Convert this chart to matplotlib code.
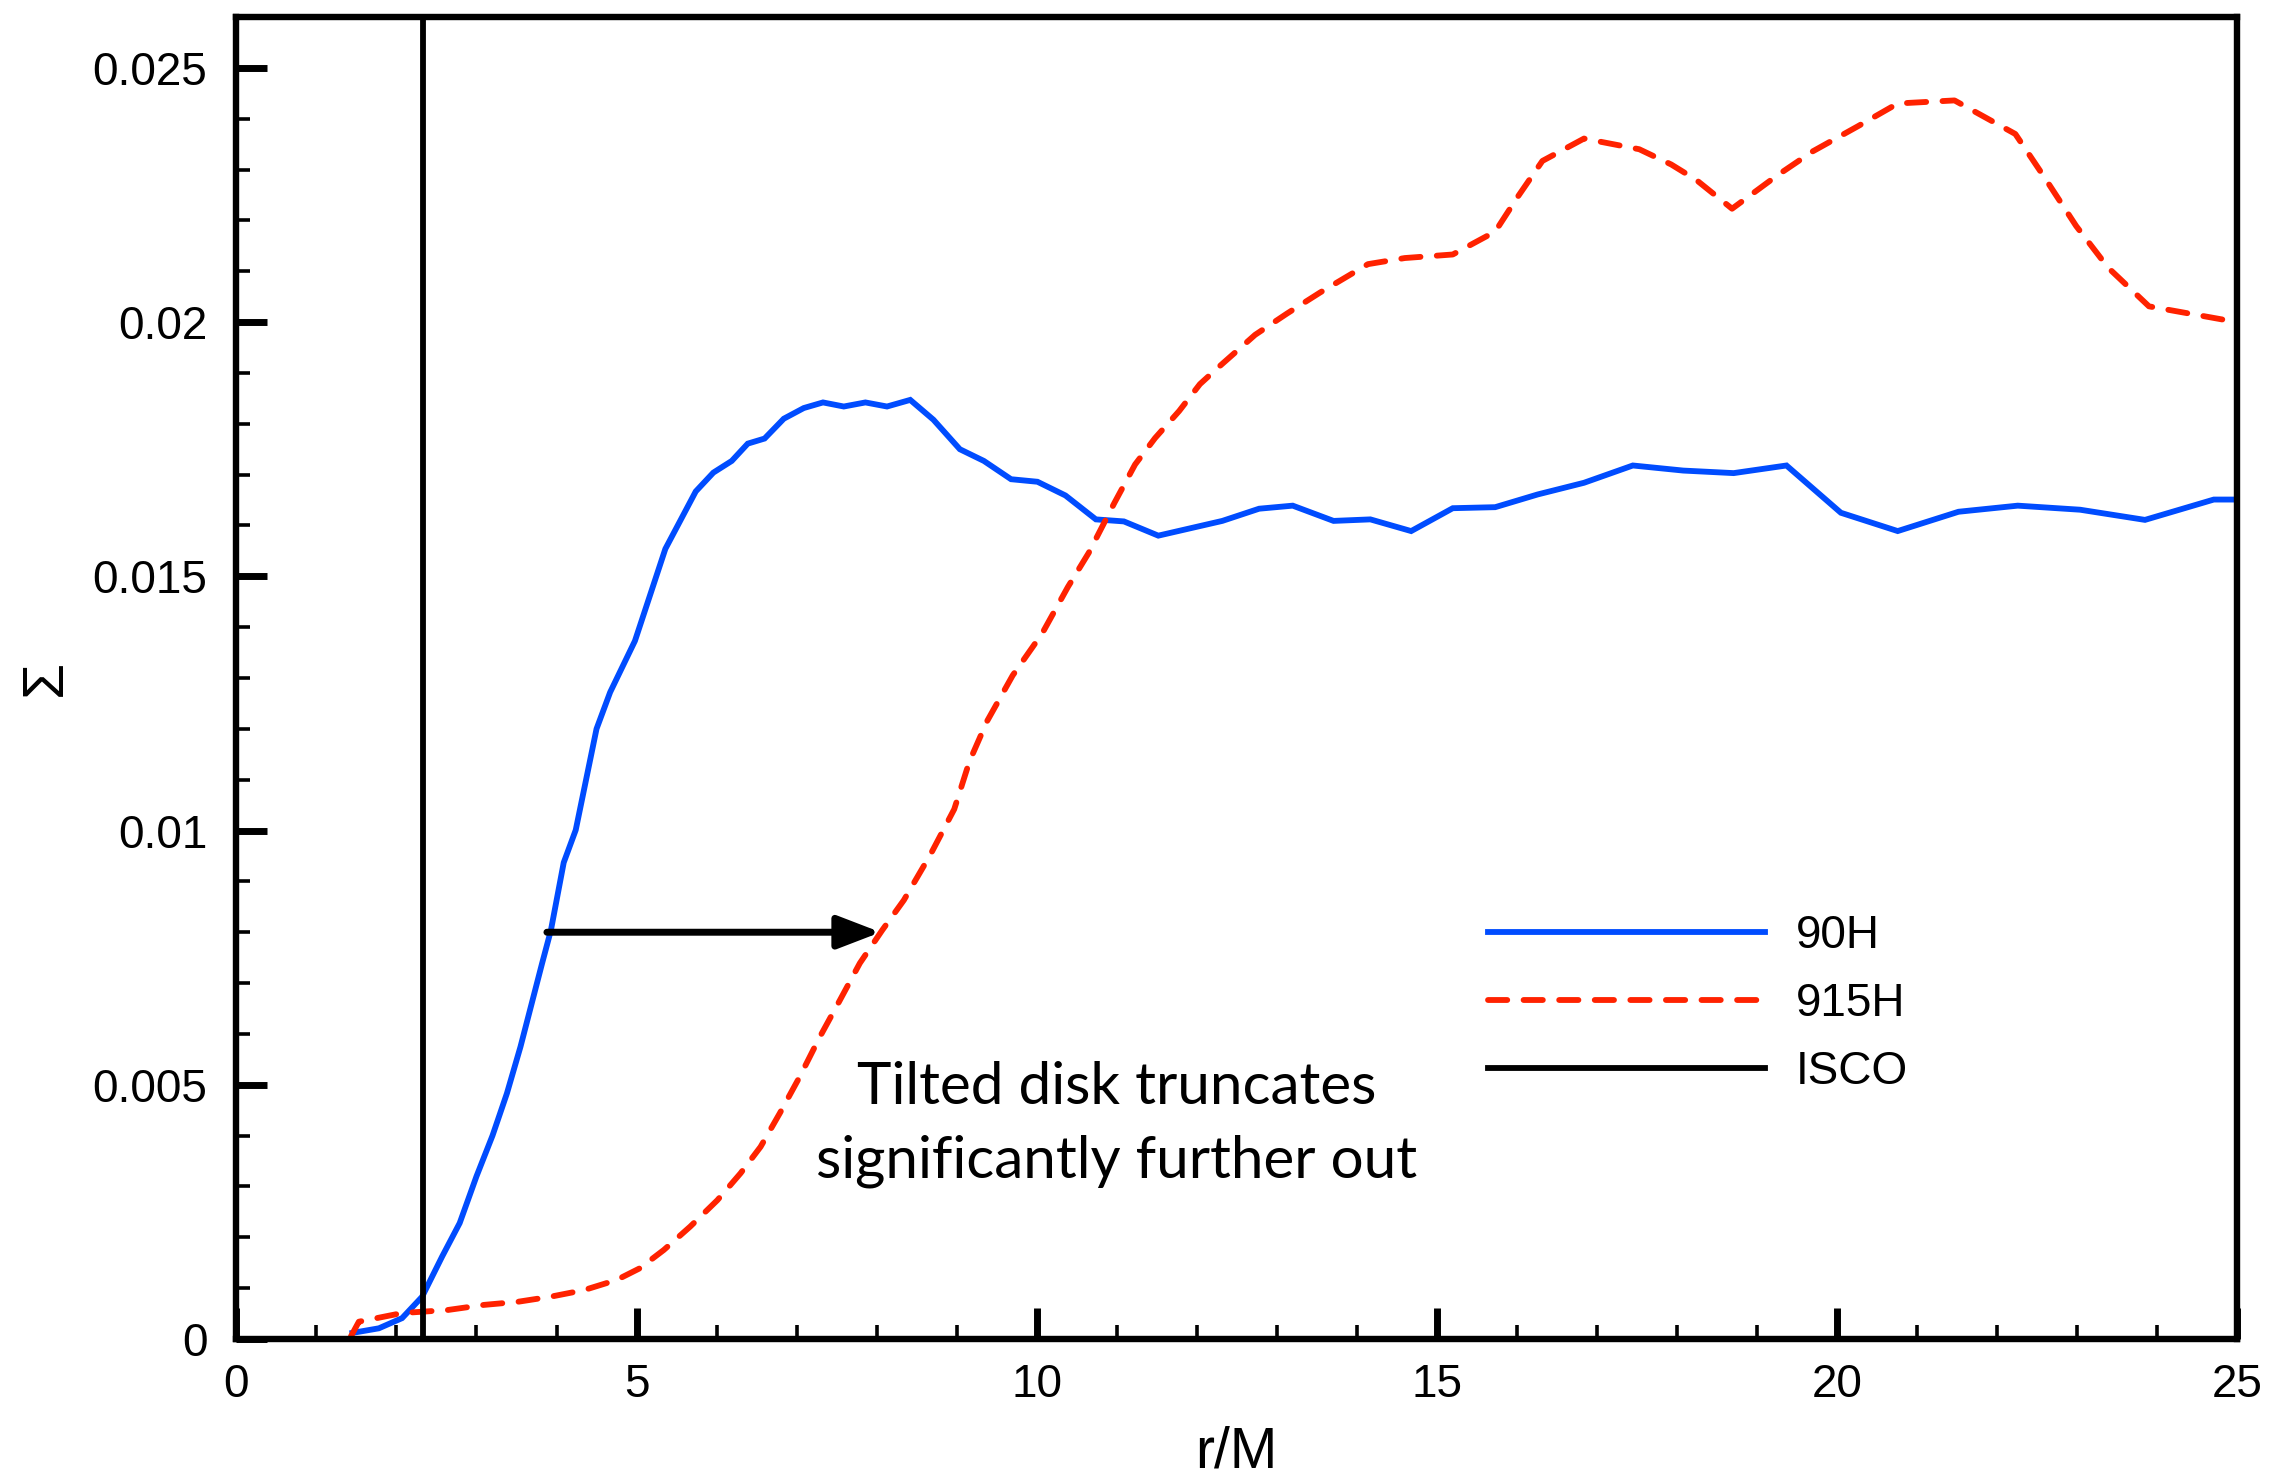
import matplotlib
matplotlib.use("Agg")
import matplotlib.pyplot as plt
from matplotlib.ticker import MultipleLocator

# ---- data (Sigma in units of 1e-3) ----
r_90H = [1.45, 1.78, 2.07, 2.32, 2.57, 2.79, 3.00, 3.20, 3.38, 3.55, 3.69, 3.82, 3.93,
         4.09, 4.24, 4.50, 4.67, 4.98, 5.36, 5.74, 5.96, 6.19, 6.39, 6.60, 6.84, 7.09,
         7.33, 7.59, 7.86, 8.13, 8.42, 8.71, 9.04, 9.34, 9.68, 10.01, 10.36, 10.74,
         11.09, 11.52, 12.32, 12.78, 13.20, 13.71, 14.17, 14.68, 15.20, 15.73, 16.26,
         16.84, 17.45, 18.08, 18.71, 19.37, 20.05, 20.76, 21.52, 22.26, 23.04, 23.85,
         24.71, 25.0]
sigma_90H = [0.12, 0.21, 0.41, 0.83, 1.62, 2.28, 3.2, 4.0, 4.83, 5.75, 6.60, 7.39, 8.04,
             9.37, 10.01, 12.0, 12.72, 13.73, 15.54, 16.67, 17.04, 17.27, 17.61, 17.71,
             18.10, 18.31, 18.42, 18.34, 18.42, 18.34, 18.47, 18.08, 17.50, 17.27, 16.91,
             16.86, 16.59, 16.12, 16.08, 15.80, 16.09, 16.33, 16.39, 16.09, 16.12, 15.89,
             16.34, 16.36, 16.61, 16.84, 17.18, 17.08, 17.03, 17.18, 16.25, 15.89, 16.27,
             16.39, 16.31, 16.11, 16.51, 16.51]

r_915H = [1.43, 1.53, 2.07, 2.64, 3.09, 3.51, 3.92, 4.34, 4.75, 5.04, 5.34, 5.67, 6.01,
          6.30, 6.55, 6.79, 7.04, 7.29, 7.54, 7.79, 8.07, 8.34, 8.67, 8.97, 9.16, 9.38,
          9.70, 10.07, 10.39, 10.65, 10.97, 11.23, 11.48, 11.78, 12.04, 12.27, 12.73,
          13.13, 13.54, 14.14, 14.60, 15.20, 15.73, 16.01, 16.32, 16.84, 17.53, 17.93,
          18.24, 18.69, 19.25, 19.70, 20.26, 20.76, 21.47, 22.23, 22.58, 22.99, 23.39,
          23.90, 25.0]
sigma_915H = [0.05, 0.34, 0.51, 0.57, 0.67, 0.73, 0.83, 0.96, 1.16, 1.39, 1.75, 2.21,
              2.73, 3.26, 3.78, 4.44, 5.16, 5.94, 6.66, 7.39, 8.04, 8.63, 9.52, 10.42,
              11.36, 12.15, 13.05, 13.88, 14.79, 15.46, 16.44, 17.20, 17.72, 18.25, 18.78,
              19.11, 19.75, 20.17, 20.58, 21.14, 21.26, 21.33, 21.78, 22.46, 23.17, 23.61,
              23.40, 23.10, 22.80, 22.23, 22.88, 23.36, 23.85, 24.30, 24.36, 23.70, 22.88,
              21.89, 21.07, 20.31, 20.0]

r_isco = 2.33
arrow_start = (3.88, 0.0080)
arrow_end = (8.05, 0.0080)
annotation_lines = ["Tilted disk truncates", "significantly further out"]
labels = ["90H", "915H", "ISCO"]

sig90 = [v * 1e-3 for v in sigma_90H]
sig915 = [v * 1e-3 for v in sigma_915H]

plt.rcParams['font.family'] = ['Liberation Sans', 'DejaVu Sans']

fig = plt.figure(figsize=(22.69, 14.82), dpi=100)
ax = fig.add_axes([0.1042, 0.0965, 0.8817, 0.8920])

blue = '#004CFF'
red = '#FF2200'
ax.plot(r_90H, sig90, color=blue, lw=4.2, label=labels[0], solid_joinstyle='miter')
ax.plot(r_915H, sig915, color=red, lw=4.2, ls=(0, (3.3, 2.8)), dash_capstyle='round',
        label=labels[1])
ax.axvline(r_isco, color='black', lw=4.2, label=labels[2])

ax.annotate('', xy=arrow_end, xytext=arrow_start,
            arrowprops=dict(arrowstyle='-|>,head_length=2.6,head_width=1.0',
                            color='black', lw=5, shrinkA=0, shrinkB=0))

ax.text(0.440, 0.1778, annotation_lines[0], transform=ax.transAxes, ha='center',
        va='baseline', fontsize=42, family=['Lato', 'DejaVu Sans'])
ax.text(0.440, 0.1218, annotation_lines[1], transform=ax.transAxes, ha='center',
        va='baseline', fontsize=42, family=['Lato', 'DejaVu Sans'])

ax.set_xlim(0, 25)
ax.set_ylim(0, 0.026)
ax.xaxis.set_minor_locator(MultipleLocator(1))
ax.yaxis.set_minor_locator(MultipleLocator(0.001))
ax.set_xticks([0, 5, 10, 15, 20, 25])
ax.set_xticklabels(['0', '5', '10', '15', '20', '25'])
ax.set_yticks([0, 0.005, 0.01, 0.015, 0.02, 0.025])
ax.set_yticklabels(['0', '0.005', '0.01', '0.015', '0.02', '0.025'])

ax.tick_params(which='major', direction='in', length=22, width=5, labelsize=33,
               top=False, right=False)
ax.tick_params(axis='x', which='major', pad=17)
ax.tick_params(axis='y', which='major', pad=21)
ax.tick_params(which='minor', direction='in', length=10, width=2.6, top=False, right=False)
for s in ax.spines.values():
    s.set_linewidth(4.6)

ax.set_xlabel('r/M', fontsize=41)
ax.set_ylabel('Σ', fontsize=42)
ax.xaxis.set_label_coords(0.5, -0.0658)
ax.yaxis.set_label_coords(-0.0817, 0.5)

ax.legend(loc='upper left', bbox_to_anchor=(0.6254, 0.3213), frameon=False,
          fontsize=33, handlelength=6.05, handletextpad=0.68, labelspacing=0.52,
          borderpad=0, borderaxespad=0)

fig.savefig('out.png', dpi=100)
